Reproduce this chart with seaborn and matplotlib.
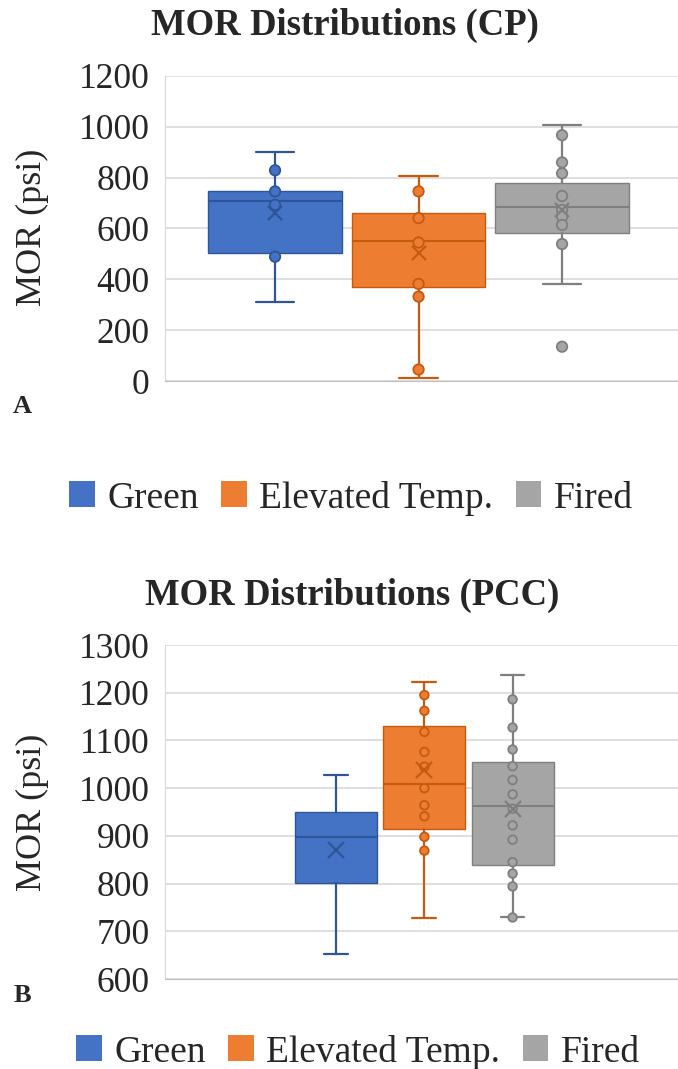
import pandas as pd
import matplotlib.pyplot as plt
import seaborn as sns
from matplotlib.patches import Patch

groups = ["Green", "Elevated Temp.", "Fired"]
colors = ["#4472C4", "#ED7D31", "#A5A5A5"]
edges = ["#2F5597", "#C55A11", "#7F7F7F"]

# CP panel, box-whisker summary (psi)
cp_low = [312, 13, 383]
cp_q1 = [505, 371, 584]
cp_med = [709, 551, 686]
cp_q3 = [749, 660, 780]
cp_high = [900, 805, 1007]
cp_mean = [660, 503, 673]
cp_green_pts = [829, 746, 693, 489]
cp_elev_pts = [746, 641, 545, 382, 332, 45]
cp_fired_pts = [967, 860, 817, 728, 673, 647, 614, 539, 135]

# PCC panel
pcc_low = [653, 728, 729]
pcc_q1 = [802, 915, 838]
pcc_med = [897, 1008, 962]
pcc_q3 = [949, 1130, 1055]
pcc_high = [1027, 1223, 1237]
pcc_mean = [870, 1039, 957]
pcc_green_pts = []
pcc_elev_pts = [1195, 1162, 1118, 1076, 1045, 1000, 964, 941, 898, 869]
pcc_fired_pts = [1186, 1127, 1081, 1046, 1017, 987, 957, 922, 892, 845, 821, 794, 729]

cp_ticks = list(range(0, 1201, 200))
pcc_ticks = list(range(600, 1301, 100))

sns.set_style("whitegrid")
plt.rcParams['font.family'] = ['Liberation Serif', 'DejaVu Serif']

W, H = 678, 1069


def make_panel(ax, low, q1, med, q3, high, mean, pts, ticks, xlim, ms, mean_ms):
    stats = []
    for i in range(3):
        stats.append(dict(whislo=low[i], q1=q1[i], med=med[i], q3=q3[i],
                          whishi=high[i], mean=mean[i], fliers=[]))
    bp = ax.bxp(stats, positions=[0, 1, 2], widths=0.93, capwidths=0.27,
                patch_artist=True, showmeans=True, showfliers=False,
                manage_ticks=False, zorder=2)
    for i in range(3):
        bp['boxes'][i].set_facecolor(colors[i])
        bp['boxes'][i].set_edgecolor(edges[i])
        bp['boxes'][i].set_linewidth(1.0)
        bp['medians'][i].set_color(edges[i])
        bp['medians'][i].set_linewidth(1.5)
        for ln in bp['whiskers'][2 * i:2 * i + 2] + bp['caps'][2 * i:2 * i + 2]:
            ln.set_color(edges[i])
            ln.set_linewidth(1.6)
        m = bp['means'][i]
        m.set_marker('x')
        m.set_markersize(mean_ms)
        m.set_markeredgecolor(edges[i])
        m.set_markeredgewidth(1.6)
        m.set_zorder(5)

    # inner points
    rows = []
    for g, vals in zip(groups, pts):
        for v in vals:
            rows.append((g, v))
    df = pd.DataFrame(rows, columns=["group", "MOR"])
    sns.stripplot(data=df, x="group", y="MOR", hue="group", order=groups,
                  hue_order=groups, palette=colors, jitter=False, size=ms,
                  linewidth=1.3, legend=False, ax=ax, zorder=4)
    for coll in ax.collections:
        fc = coll.get_facecolor()
        if len(fc) == 0:
            continue
        hexc = sns.utils.mpl.colors.to_hex(fc[0])
        for c, e in zip(colors, edges):
            if hexc.lower() == c.lower():
                coll.set_edgecolor(e)

    ax.set_xlim(*xlim)
    ax.set_ylim(ticks[0], ticks[-1])
    ax.set_yticks(ticks)
    ax.set_xticks([])
    ax.set_xlabel("")
    ax.set_ylabel("")
    ax.tick_params(axis='y', labelsize=25.5, length=0, pad=11)
    ax.yaxis.grid(True, color="#D9D9D9", linewidth=1.2)
    ax.xaxis.grid(False)
    for s in ['top', 'right']:
        ax.spines[s].set_visible(False)
    ax.spines['left'].set_color("#D9D9D9")
    ax.spines['bottom'].set_color("#BFBFBF")


fig = plt.figure(figsize=(W / 100, H / 100), dpi=100)

ax1 = fig.add_axes([165 / W, 1 - 381 / H, 513 / W, 305 / H])
make_panel(ax1, cp_low, cp_q1, cp_med, cp_q3, cp_high, cp_mean,
           [cp_green_pts, cp_elev_pts, cp_fired_pts], cp_ticks,
           (-0.767, 2.808), 7.5, 10)

ax2 = fig.add_axes([165 / W, 1 - 979 / H, 513 / W, 334 / H])
make_panel(ax2, pcc_low, pcc_q1, pcc_med, pcc_q3, pcc_high, pcc_mean,
           [pcc_green_pts, pcc_elev_pts, pcc_fired_pts], pcc_ticks,
           (-1.94, 3.875), 6.2, 11)

# titles, axis labels, panel letters
fig.text(345 / W, 1 - 25 / H, "MOR Distributions (CP)", ha='center', va='center',
         fontsize=26.5, fontweight='bold')
fig.text(352 / W, 1 - 595 / H, "MOR Distributions (PCC)", ha='center', va='center',
         fontsize=26.5, fontweight='bold')
fig.text(32 / W, 1 - 227 / H, "MOR (psi)", rotation=90, ha='center', va='center', fontsize=26)
fig.text(32 / W, 1 - 812 / H, "MOR (psi)", rotation=90, ha='center', va='center', fontsize=26)
fig.text(22 / W, 1 - 407 / H, "A", ha='center', va='center', fontsize=19, fontweight='bold')
fig.text(22 / W, 1 - 995 / H, "B", ha='center', va='center', fontsize=19, fontweight='bold')

handles = [Patch(facecolor=c, edgecolor='none') for c in colors]
for cx, cy in [(351, 498), (358, 1052)]:
    fig.legend(handles, groups, loc='center', bbox_to_anchor=(cx / W, 1 - cy / H),
               ncol=3, frameon=False, fontsize=27, handlelength=0.68,
               handleheight=0.68, handletextpad=0.33, columnspacing=0.6,
               borderpad=0, borderaxespad=0)

fig.savefig("out.png", dpi=100)
